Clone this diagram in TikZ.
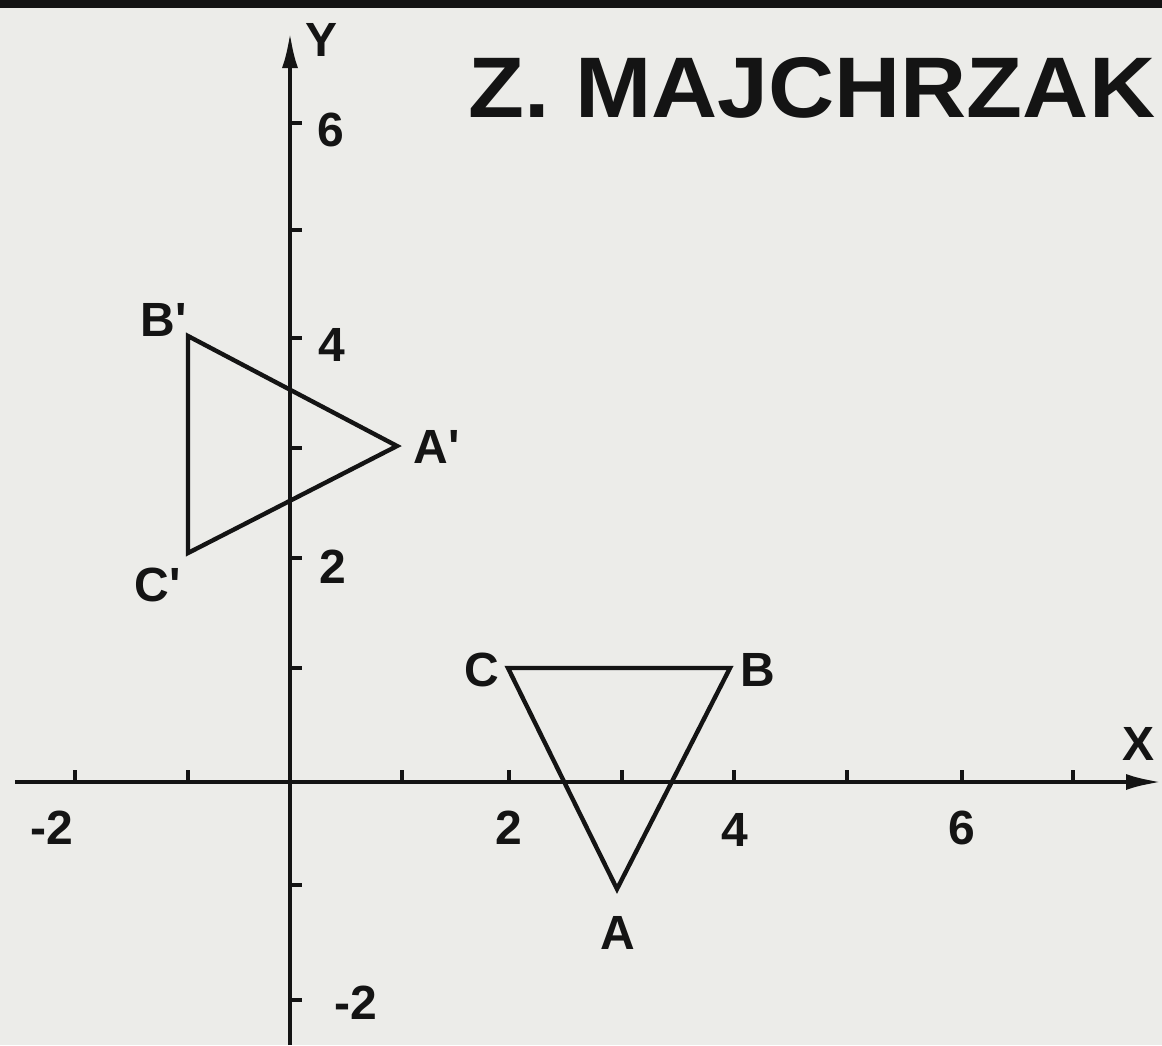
\documentclass[tikz,border=0pt]{standalone}
\usepackage{fontspec}
\newfontfamily\labfont{Liberation Sans Bold}
\usetikzlibrary{arrows.meta}
\definecolor{paper}{RGB}{236,236,233}
\definecolor{ink}{RGB}{20,20,20}
\begin{document}
\begin{tikzpicture}[x=0.5pt,y=-0.5pt,
  lab/.style={font=\labfont\fontsize{24}{24}\selectfont, text=ink, inner sep=0pt},
  axisline/.style={line width=2.2pt, draw=ink},
  tri/.style={line width=2.2pt, draw=ink, line join=miter},
  tickmark/.style={line width=2pt, draw=ink}]
\fill[paper] (0,0) rectangle (1162,1045);
\useasboundingbox (0,0) rectangle (1162,1045);
\fill[ink] (0,0) rectangle (1162,8);
% axes
\coordinate (xs) at (15,782);
\coordinate (xe) at (1162,782);
\coordinate (ys) at (290,1045);
\coordinate (ye) at (290,32);
\draw[axisline,-{Latex[length=18pt,width=8pt]}] (xs) -- (xe);
\draw[axisline,-{Latex[length=18pt,width=8pt]}] (ys) -- (ye);
\foreach \t in {75,188,402,509,622,734,847,962,1073}
  \draw[tickmark] (\t,782) -- (\t,770);
\foreach \t in {123,230,338,448,558,668,885,1000}
  \draw[tickmark] (290,\t) -- (302,\t);
% axis labels
\node[lab] (ylab) at (322,40) {Y};
\node[lab] (xlab) at (1138,744) {X};
\node[lab] (y6) at (331,130) {6};
\node[lab] (y4) at (332,345) {4};
\node[lab] (y2) at (333,567) {2};
\node[lab] (ym2) at (356,1003) {-2};
\node[lab] (xm2) at (52,828) {-2};
\node[lab] (x2) at (509,828) {2};
\node[lab] (x4) at (735,830) {4};
\node[lab] (x6) at (962,828) {6};
% title
\node[anchor=base west, inner sep=0pt, text=ink, font=\labfont\fontsize{43}{43}\selectfont] (title) at (468,117) {\scalebox{1.065}[1]{Z. MAJCHRZAK}};
% triangle ABC
\coordinate (A) at (617,889);
\coordinate (B) at (730,668);
\coordinate (C) at (508,668);
\draw[tri] (A) -- (B) -- (C) -- cycle;
\node[lab] (lA) at (618,933) {A};
\node[lab] (lB) at (758,670) {B};
\node[lab] (lC) at (482,670) {C};
% triangle A'B'C'
\coordinate (A1) at (397,446);
\coordinate (B1) at (188,336);
\coordinate (C1) at (188,553);
\draw[tri] (A1) -- (B1) -- (C1) -- cycle;
\node[lab] (lA1) at (437,447) {A'};
\node[lab] (lB1) at (164,320) {B'};
\node[lab] (lC1) at (158,585) {C'};
\end{tikzpicture}
\end{document}
